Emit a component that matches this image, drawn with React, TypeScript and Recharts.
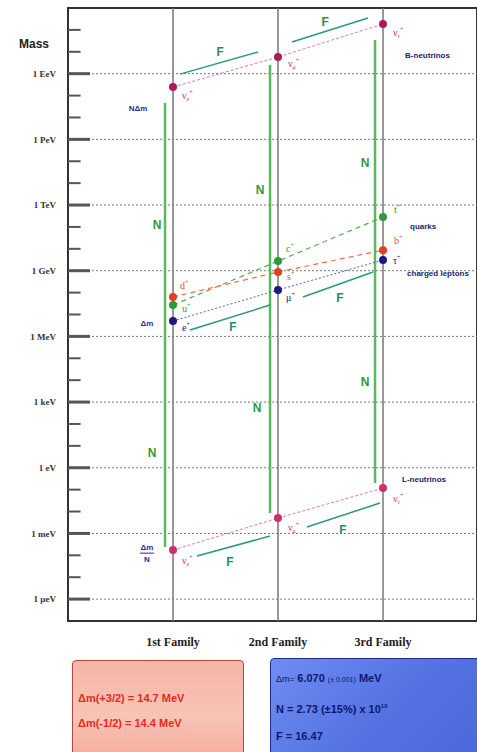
import React from "react";
import {
  ComposedChart,
  Line,
  Scatter,
  XAxis,
  YAxis,
  ReferenceLine,
  ReferenceArea,
} from "recharts";

// axis ranges: x = family index, y = log10(mass / eV)
const X_MAX = 3.895;
const LOG_MIN = -7;
const LOG_MAX = 21;

const families = [1, 2, 3];
const familyNames = ["1st Family", "2nd Family", "3rd Family"];

const massTicks = [18, 15, 12, 9, 6, 3, 0, -3, -6];
const massTickLabels = ["1 EeV", "1 PeV", "1 TeV", "1 GeV", "1 MeV", "1 keV", "1  eV", "1 meV", "1 µeV"];
const minorTicks = [20, 19, 17, 16, 14, 13, 11, 10, 8, 7, 5, 4, 2, 1, -1, -2, -4, -5];

// particle masses per family (log10 eV)
const bNeutrinos = [17.39, 18.76, 20.27];
const upQuarks = [7.43, 9.44, 11.45];
const downQuarks = [7.8, 8.94, 9.94];
const chargedLeptons = [6.7, 8.12, 9.49];
const lNeutrinos = [-3.76, -2.3, -0.93];

const neutrinoSubs = ["e", "μ", "τ"];
const upNames = ["u", "c", "t"];
const downNames = ["d", "s", "b"];
const leptonNames = ["e", "μ", "τ"];

// F steps (family, log mass) start/end
const fSegments = [
  [[1.067, 17.98], [1.81, 18.99]],
  [[2.133, 19.45], [2.857, 20.54]],
  [[1.162, 6.29], [1.924, 7.43]],
  [[2.238, 7.8], [2.905, 8.94]],
  [[1.229, -4.03], [1.924, -3.12]],
  [[2.276, -2.71], [2.971, -1.61]],
];
const fLabels = [
  { x: 1.448, y: 18.99 },
  { x: 2.448, y: 20.36 },
  { x: 1.571, y: 6.43 },
  { x: 2.59, y: 7.75 },
  { x: 1.543, y: -4.31 },
  { x: 2.619, y: -2.85 },
];

// N jumps (vertical)
const nSegments = [
  { x: 0.924, from: -3.62, to: 16.66 },
  { x: 1.924, from: -2.07, to: 18.4 },
  { x: 2.924, from: -0.7, to: 19.54 },
];
const nLabels = [
  { x: 0.848, y: 11.09 },
  { x: 0.8, y: 0.67 },
  { x: 1.829, y: 12.69 },
  { x: 1.8, y: 2.73 },
  { x: 2.829, y: 13.92 },
  { x: 2.829, y: 3.91 },
];

const groupLabels = [
  { x: 3.21, y: 18.85, text: "B-neutrinos" },
  { x: 3.257, y: 11.0, text: "quarks" },
  { x: 3.229, y: 8.89, text: "charged leptons" },
  { x: 3.181, y: -0.52, text: "L-neutrinos" },
];
const deltaLabels = [
  { x: 0.667, y: 16.43, text: "NΔm" },
  { x: 0.752, y: 6.61, text: "Δm" },
  { x: 0.752, y: -3.9, text: "Δm/N" },
];

const toPoints = (vals: number[]) => families.map((f, i) => ({ x: f, y: vals[i] }));

const SANS = "Liberation Sans, Arial, sans-serif";
const SERIF = "Liberation Serif, Times New Roman, serif";

// label offsets (px) next to each point
const OFF_BNU = [[9, 12], [10, 10], [10, 12]];
const OFF_UP = [[9, 7], [8, -9], [11, -4]];
const OFF_DOWN = [[7, -8], [9, 8], [11, -6]];
const OFF_LEP = [[9, 10], [8, 11], [10, 4]];
const OFF_LNU = [[9, 14], [10, 13], [10, 14]];

const makeDot =
  (color: string, labelColor: string, base: string[], sub: string[] | null, offs: number[][]) =>
  (props: any) => {
    const { cx, cy, index } = props;
    const [dx, dy] = offs[index];
    return (
      <g key={`dot-${color}-${index}`}>
        <circle cx={cx} cy={cy} r={4} fill={color} />
        <text x={cx + dx} y={cy + dy} fill={labelColor} fontSize={10} fontFamily={SERIF}>
          {base[index]}
          {sub && (
            <tspan fontSize={6} dy={2}>
              {sub[index]}
            </tspan>
          )}
          <tspan fontSize={6} dy={sub ? -7 : -5}>
            +
          </tspan>
        </text>
      </g>
    );
  };

const FShape = (props: any) => (
  <text x={props.cx} y={props.cy} textAnchor="middle" dominantBaseline="central" fill="#2a8a5e" fontSize={12} fontWeight="bold" fontFamily={SANS}>
    F
  </text>
);

const NShape = (props: any) => (
  <text x={props.cx} y={props.cy} textAnchor="middle" dominantBaseline="central" fill="#2f9a3a" fontSize={12} fontWeight="bold" fontFamily={SANS}>
    N
  </text>
);

const GroupShape = (props: any) => (
  <text x={props.cx} y={props.cy} dominantBaseline="central" fill="#1c2470" fontSize={8} fontWeight="bold" fontFamily={SANS}>
    {props.payload.text}
  </text>
);

const DeltaShape = (props: any) => {
  const { cx, cy, payload } = props;
  if (payload.text.includes("/")) {
    const [top, bottom] = payload.text.split("/");
    return (
      <g fill="#2a2a9a" fontSize={8} fontWeight="bold" fontFamily={SANS}>
        <text x={cx} y={cy - 3} textAnchor="middle">{top}</text>
        <line x1={cx - 7} x2={cx + 7} y1={cy} y2={cy} stroke="#2a2a9a" strokeWidth={1} />
        <text x={cx} y={cy + 9} textAnchor="middle">{bottom}</text>
      </g>
    );
  }
  return (
    <text x={cx} y={cy} textAnchor="middle" dominantBaseline="central" fill="#2a2a9a" fontSize={8} fontWeight="bold" fontFamily={SANS}>
      {payload.text}
    </text>
  );
};

export default function App() {
  return (
    <div style={{ position: "absolute", left: 0, top: 0, width: 477, height: 752, overflow: "hidden", background: "#fff" }}>
      <div style={{ position: "absolute", left: 19, top: 37, fontFamily: SANS, fontWeight: "bold", fontSize: 12, color: "#222" }}>
        Mass
      </div>
      <ComposedChart width={477} height={650} margin={{ top: 8, right: 0, left: 0, bottom: 0 }}>
        <XAxis
          type="number"
          dataKey="x"
          domain={[0, X_MAX]}
          allowDataOverflow
          ticks={families}
          tickFormatter={(v: number) => familyNames[v - 1]}
          axisLine={false}
          tickLine={false}
          height={29}
          tickMargin={10}
          tick={{ fontFamily: SERIF, fontWeight: "bold", fontSize: 12, fill: "#222" }}
        />
        <YAxis
          type="number"
          dataKey="y"
          domain={[LOG_MIN, LOG_MAX]}
          allowDataOverflow
          ticks={massTicks}
          tickFormatter={(v: number) => massTickLabels[massTicks.indexOf(v)]}
          axisLine={false}
          tickLine={false}
          width={68}
          tickMargin={6}
          tick={{ fontFamily: SERIF, fontWeight: "bold", fontSize: 9, fill: "#333" }}
        />

        {massTicks.map((v) => (
          <ReferenceLine key={`g-${v}`} y={v} stroke="#777" strokeDasharray="2 2" strokeWidth={1} />
        ))}
        {massTicks.map((v) => (
          <ReferenceLine key={`mt-${v}`} segment={[{ x: 0, y: v }, { x: 0.21, y: v }]} stroke="#555" strokeWidth={3} />
        ))}
        {minorTicks.map((v) => (
          <ReferenceLine key={`nt-${v}`} segment={[{ x: 0, y: v }, { x: 0.12, y: v }]} stroke="#555" strokeWidth={2} />
        ))}
        {families.map((f) => (
          <ReferenceLine key={`fam-${f}`} x={f} stroke="#777" strokeWidth={1.5} />
        ))}
        <ReferenceArea x1={0} x2={X_MAX} y1={LOG_MIN} y2={LOG_MAX} fill="none" stroke="#333" strokeWidth={2} />

        {nSegments.map((s, i) => (
          <ReferenceLine key={`n-${i}`} segment={[{ x: s.x, y: s.from }, { x: s.x, y: s.to }]} stroke="#5cb85c" strokeWidth={2.5} />
        ))}
        {fSegments.map((s, i) => (
          <ReferenceLine key={`f-${i}`} segment={[{ x: s[0][0], y: s[0][1] }, { x: s[1][0], y: s[1][1] }]} stroke="#2a9a78" strokeWidth={1.5} />
        ))}

        <Line data={toPoints(bNeutrinos)} dataKey="y" stroke="#e07aa8" strokeWidth={1} strokeDasharray="3 2"
          dot={makeDot("#b0185a", "#c0307a", ["ν", "ν", "ν"], neutrinoSubs, OFF_BNU)} isAnimationActive={false} />
        <Line data={toPoints(upQuarks)} dataKey="y" stroke="#4fb050" strokeWidth={1.2} strokeDasharray="5 4"
          dot={makeDot("#2a9a3a", "#2a9a3a", upNames, null, OFF_UP)} isAnimationActive={false} />
        <Line data={toPoints(downQuarks)} dataKey="y" stroke="#ee6a4a" strokeWidth={1.2} strokeDasharray="5 4"
          dot={makeDot("#e0401e", "#e05030", downNames, null, OFF_DOWN)} isAnimationActive={false} />
        <Line data={toPoints(chargedLeptons)} dataKey="y" stroke="#5a62b8" strokeWidth={1} strokeDasharray="2 2"
          dot={makeDot("#1a1a80", "#1a1a80", leptonNames, null, OFF_LEP)} isAnimationActive={false} />
        <Line data={toPoints(lNeutrinos)} dataKey="y" stroke="#e07aa8" strokeWidth={1} strokeDasharray="3 2"
          dot={makeDot("#d0306a", "#c0307a", ["ν", "ν", "ν"], neutrinoSubs, OFF_LNU)} isAnimationActive={false} />

        <Scatter data={fLabels} dataKey="y" shape={FShape} isAnimationActive={false} />
        <Scatter data={nLabels} dataKey="y" shape={NShape} isAnimationActive={false} />
        <Scatter data={groupLabels} dataKey="y" shape={GroupShape} isAnimationActive={false} />
        <Scatter data={deltaLabels} dataKey="y" shape={DeltaShape} isAnimationActive={false} />
      </ComposedChart>

      <div
        style={{
          position: "absolute", left: 72, top: 660, width: 172, height: 110, boxSizing: "border-box",
          border: "1.5px solid #b8483e", borderRadius: 4,
          background: "linear-gradient(180deg, #f4b4a6 0%, #f8c4b6 50%, #f2a898 100%)",
          fontFamily: SANS, fontWeight: "bold", fontSize: 11, color: "#e8281e", padding: "25px 0 0 5px", lineHeight: "25px",
        }}
      >
        <div>Δm(+3/2) = 14.7 MeV</div>
        <div>Δm(-1/2) = 14.4 MeV</div>
      </div>
      <div
        style={{
          position: "absolute", left: 270, top: 658, width: 220, height: 110, boxSizing: "border-box",
          border: "1.5px solid #1c2a9a", borderRadius: 4,
          background: "linear-gradient(135deg, #6f8cf0 0%, #5574e2 50%, #4a66d8 100%)",
          fontFamily: SANS, fontWeight: "bold", fontSize: 11, color: "#0e1670", padding: "6px 0 0 5px", lineHeight: "27px",
        }}
      >
        <div>
          <span style={{ fontWeight: "normal", fontSize: 9 }}>Δm= </span>6.070 <span style={{ fontWeight: "normal", fontSize: 7 }}>(± 0.001)</span> MeV
        </div>
        <div>
          N = 2.73 (±15%) x 10<sup style={{ fontSize: 6 }}>10</sup>
        </div>
        <div>F = 16.47</div>
      </div>
    </div>
  );
}
